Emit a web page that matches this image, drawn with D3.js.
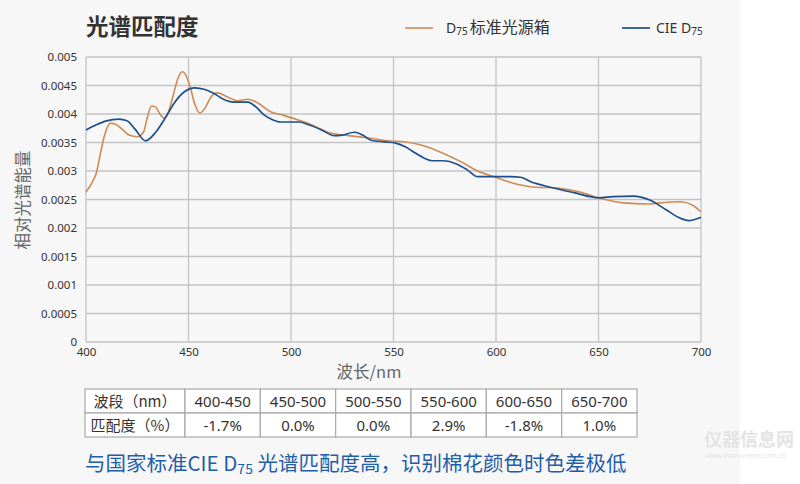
<!DOCTYPE html>
<html><head><meta charset="utf-8">
<script src="https://cdn.jsdelivr.net/npm/d3@7"></script>
<style>body{margin:0;background:#fff}svg{display:block}</style>
</head><body><svg id="c" width="800" height="484"></svg>
<script>
const xTicks = [400,450,500,550,600,650,700];
const yTicks = [0,0.0005,0.001,0.0015,0.002,0.0025,0.003,0.0035,0.004,0.0045,0.005];
const yTickLabels = ["0","0.0005","0.001","0.0015","0.002","0.0025","0.003","0.0035","0.004","0.0045","0.005"];

const cieNm = [400,405,410,416,420,424,429,434,439,443,448,453,458,462,467,472,479,483,487,491,495,504,508,515,521,525,531,535,539,546,551,556,560,569,574,581,586,591,600,607,612,617,626,638,650,657,667,675,683,690,694,700];
const cieVal = [0.00372,0.00381,0.00388,0.00391,0.00388,0.00373,0.00353,0.00368,0.00395,0.00419,0.00439,0.00446,0.00443,0.00437,0.00426,0.00421,0.00421,0.00412,0.00398,0.00390,0.00386,0.00386,0.00382,0.00372,0.00362,0.00363,0.00368,0.00363,0.00354,0.00351,0.00349,0.00342,0.00333,0.00318,0.00318,0.00312,0.00302,0.00290,0.00290,0.00290,0.00289,0.00281,0.00272,0.00262,0.00253,0.00255,0.00256,0.00249,0.00232,0.00217,0.00213,0.00219];

const boxNm = [400,403,405,407,409,412,415,418,421,425,428,430,432,434,436,438,440,443,445,447,449,451,453,455.5,458,461,464,469,474,479,484,490,496,503,508,518,528,538,547,556,563,573,583,591,599,608,618,630,641,650,662,674,680,690,696,700];
const boxVal = [0.00263,0.00280,0.00296,0.00330,0.00362,0.00384,0.00381,0.00372,0.00363,0.00360,0.00368,0.00395,0.00414,0.00412,0.00400,0.00393,0.00402,0.00439,0.00464,0.00474,0.00466,0.00445,0.00418,0.00402,0.00410,0.00430,0.00437,0.00430,0.00423,0.00426,0.00419,0.00404,0.00398,0.00390,0.00384,0.00368,0.00362,0.00358,0.00353,0.00351,0.00346,0.00333,0.00316,0.00300,0.00290,0.00279,0.00272,0.00270,0.00263,0.00253,0.00244,0.00242,0.00244,0.00246,0.00240,0.00228];

const tableHeader = ["波段（nm）","400-450","450-500","500-550","550-600","600-650","650-700"];
const tableRow = ["匹配度（%）","-1.7%","0.0%","0.0%","2.9%","-1.8%","1.0%"];

const FONT = "'Noto Sans','Noto Sans CJK SC',sans-serif";
const CJK = "'Noto Sans CJK SC',sans-serif";
const svg = d3.select("#c").style("font-family", FONT);

svg.append("rect").attr("x",0).attr("y",0).attr("width",740).attr("height",484).attr("fill","#f7f7f7");

const x = d3.scaleLinear().domain([400,700]).range([86,701]);
const y = d3.scaleLinear().domain([0,0.005]).range([342,57]);

// grid
const g = svg.append("g");
g.selectAll("line.h").data(yTicks).join("line")
  .attr("x1",x(400)).attr("x2",x(700)).attr("y1",d=>y(d)).attr("y2",d=>y(d))
  .attr("stroke","#c4c4c4").attr("stroke-width",1.3);
g.selectAll("line.v").data(xTicks).join("line")
  .attr("y1",y(0)).attr("y2",y(0.005)).attr("x1",d=>x(d)).attr("x2",d=>x(d))
  .attr("stroke","#c4c4c4").attr("stroke-width",1.3);

// axes
const yAxis = d3.axisLeft(y).tickValues(yTicks).tickFormat((d,i)=>yTickLabels[i]).tickSize(0).tickPadding(9);
const ya = svg.append("g").attr("transform",`translate(${x(400)},0)`).call(yAxis);
ya.select(".domain").remove();
ya.selectAll("text").attr("font-size",11.5).attr("fill","#333").attr("font-family",FONT);

const xAxis = d3.axisBottom(x).tickValues(xTicks).tickFormat(d3.format("d")).tickSize(0).tickPadding(6);
const xa = svg.append("g").attr("transform",`translate(0,${y(0)})`).call(xAxis);
xa.select(".domain").remove();
xa.selectAll("text").attr("font-size",11.5).attr("fill","#333").attr("font-family",FONT);

// lines
const line = d3.line().x(d=>x(d[0])).y(d=>y(d[1])).curve(d3.curveMonotoneX);
svg.append("path").datum(boxNm.map((n,i)=>[n,boxVal[i]]))
  .attr("d",line).attr("fill","none").attr("stroke","#d08a55").attr("stroke-width",1.6);
svg.append("path").datum(cieNm.map((n,i)=>[n,cieVal[i]]))
  .attr("d",line).attr("fill","none").attr("stroke","#1d4f8c").attr("stroke-width",1.7);

// title
svg.append("text").attr("x",86).attr("y",35).attr("font-size",22.5).attr("font-weight","bold")
  .attr("fill","#333").attr("font-family",CJK).text("光谱匹配度");

// legend
svg.append("line").attr("x1",405).attr("x2",433).attr("y1",28).attr("y2",28).attr("stroke","#d08a55").attr("stroke-width",1.6);
const l1 = svg.append("text").attr("x",446).attr("y",33).attr("font-size",14).attr("fill","#333");
l1.append("tspan").text("D");
l1.append("tspan").attr("font-size",10).attr("dy",2).text("75");
l1.append("tspan").attr("dy",-2).attr("dx",2).attr("font-size",16).attr("font-family",CJK).text("标准光源箱");
svg.append("line").attr("x1",622).attr("x2",650).attr("y1",28).attr("y2",28).attr("stroke","#1d4f8c").attr("stroke-width",1.7);
const l2 = svg.append("text").attr("x",656).attr("y",33).attr("font-size",14).attr("fill","#333");
l2.append("tspan").text("CIE D");
l2.append("tspan").attr("font-size",10).attr("dy",2).text("75");

// axis titles
svg.append("text").attr("transform","translate(29,200) rotate(-90)").attr("text-anchor","middle")
  .attr("font-size",16.5).attr("fill","#666").attr("font-family",CJK).text("相对光谱能量");
svg.append("text").attr("x",369).attr("y",378).attr("text-anchor","middle")
  .attr("font-size",16.5).attr("fill","#666").attr("font-family",CJK).text("波长/nm");

// table
const tx0 = 85, firstW = 100, colW = (637-185)/6, ty0 = 389, rowH = 24;
const colX = i => i===0 ? tx0 : tx0 + firstW + (i-1)*colW;
const colWidth = i => i===0 ? firstW : colW;
const tbl = svg.append("g");
[tableHeader, tableRow].forEach((row, r) => {
  row.forEach((cell, i) => {
    tbl.append("rect").attr("x",colX(i)).attr("y",ty0 + r*rowH).attr("width",colWidth(i)).attr("height",rowH)
      .attr("fill","#fff").attr("stroke","#a9a9a9").attr("stroke-width",1.2);
    tbl.append("text").attr("x",colX(i)+colWidth(i)/2).attr("y",ty0 + r*rowH + rowH/2 + 5.5)
      .attr("text-anchor","middle").attr("font-size",15).attr("fill","#333")
      .attr("font-family",i===0?CJK:FONT).text(cell);
  });
});

// bottom caption
const cap = svg.append("text").attr("x",85).attr("y",471).attr("font-size",20.5).attr("fill","#1f5ea8")
  .attr("font-family",CJK);
cap.append("tspan").text("与国家标准CIE D");
cap.append("tspan").attr("font-size",14).attr("dy",3).text("75");
cap.append("tspan").attr("dy",-3).text(" 光谱匹配度高，识别棉花颜色时色差极低");

// watermark
svg.append("text").attr("x",704).attr("y",446).attr("font-size",18).attr("font-weight","bold")
  .attr("fill","#e4e4e4").attr("font-family",CJK).text("仪器信息网");
svg.append("text").attr("x",705).attr("y",458).attr("font-size",7)
  .attr("fill","#e4e4e4").text("www.instrument.com.cn");
</script></body></html>
